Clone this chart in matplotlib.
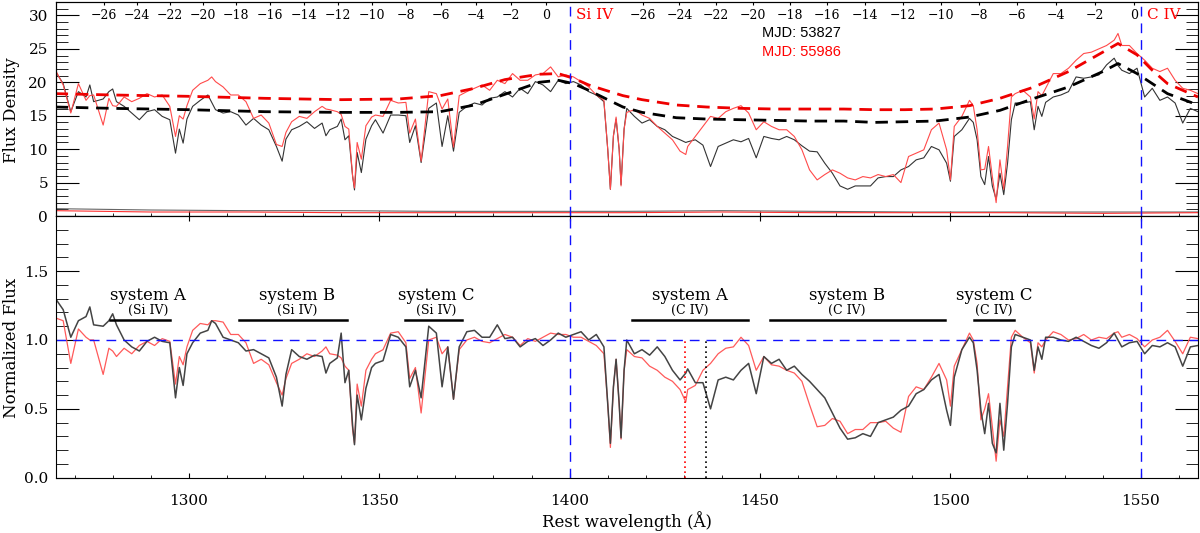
import numpy as np
import matplotlib.pyplot as plt
from matplotlib.ticker import MultipleLocator

plt.rcParams['font.family'] = ['DejaVu Serif']

# rest wavelength grid (A)
wave = [1265, 1267, 1269, 1271, 1273, 1274, 1275, 1277.5, 1279, 1280,
        1281, 1283, 1285, 1287, 1289, 1291, 1293, 1295, 1296.5, 1297.5,
        1298.5, 1299.5, 1301, 1303, 1305, 1306, 1307, 1309, 1311, 1313,
        1315, 1317, 1319, 1321, 1323, 1324.5, 1325.5, 1327, 1329, 1331,
        1333, 1335, 1336, 1337, 1339, 1340, 1341, 1342, 1343, 1343.5,
        1344.2, 1345.3, 1346.5, 1348, 1349, 1351, 1353, 1355, 1357, 1358,
        1359.5, 1361, 1363, 1365, 1366.5, 1368, 1369.5, 1371, 1373, 1375,
        1377, 1379, 1381, 1383, 1385, 1387, 1389, 1391, 1393, 1395,
        1397, 1399, 1401, 1403, 1405, 1407, 1409, 1410, 1410.7, 1411.5,
        1412.2, 1413, 1413.5, 1414.3, 1415, 1417, 1419, 1421, 1423, 1425,
        1427, 1429, 1430.5, 1431, 1433, 1435, 1437, 1439, 1441, 1443,
        1445, 1447, 1449, 1451, 1453, 1455, 1457, 1459, 1461, 1463,
        1465, 1467, 1469, 1471, 1473, 1475, 1477, 1479, 1481, 1483,
        1485, 1487, 1489, 1491, 1493, 1495, 1497, 1499, 1500, 1501,
        1503, 1505, 1506, 1507, 1508, 1509, 1510, 1511, 1512, 1513,
        1514, 1515, 1516, 1517, 1519, 1521, 1522, 1523, 1524, 1525,
        1527, 1529, 1531, 1533, 1535, 1537, 1539, 1541, 1543, 1544,
        1545, 1547, 1549, 1551, 1553, 1555, 1557, 1559, 1561, 1563,
        1565]

# flux density, MJD 53827 (black) and MJD 55986 (red)
flux_53827 = [21.6, 19.8, 15.6, 18.6, 17.8, 19.6, 17.1, 17.5, 18.6, 19.0,
              17.1, 16.4, 15.4, 14.4, 15.6, 15.9, 14.9, 14.4, 9.4, 13.0,
              10.9, 14.5, 16.4, 17.3, 18.1, 17.0, 15.9, 15.4, 15.6, 15.1,
              13.6, 14.6, 13.6, 12.9, 10.4, 8.2, 11.5, 12.9, 13.4, 14.1,
              13.1, 13.9, 12.0, 12.9, 13.4, 14.5, 11.4, 12.0, 6.0, 3.9,
              9.5, 6.5, 11.5, 13.5, 14.4, 12.4, 15.1, 15.1, 15.0, 11.0,
              13.5, 8.0, 16.1, 16.9, 10.4, 15.0, 9.7, 15.5, 16.4, 16.9,
              16.6, 17.6, 17.8, 18.6, 17.8, 19.1, 18.3, 20.1, 19.6, 18.6,
              20.3, 19.8, 20.1, 19.6, 18.6, 18.1, 17.1, 10.0, 4.0, 12.0,
              14.5, 10.0, 4.7, 13.0, 16.1, 14.9, 13.9, 14.4, 13.4, 12.9,
              11.9, 11.4, 11.0, 11.1, 11.4, 10.6, 7.4, 10.4, 10.9, 11.4,
              11.1, 11.6, 8.7, 11.9, 11.6, 11.4, 11.9, 11.4, 10.5, 9.7,
              9.6, 7.9, 6.4, 4.5, 4.0, 4.5, 4.5, 4.5, 5.7, 5.9,
              5.9, 6.9, 7.4, 8.4, 8.7, 10.4, 9.9, 7.9, 5.2, 11.9,
              12.9, 14.6, 14.0, 11.4, 5.9, 4.7, 8.9, 4.5, 2.5, 6.4,
              3.2, 7.9, 14.4, 16.9, 16.9, 17.1, 12.9, 16.4, 14.9, 17.0,
              17.8, 18.1, 18.6, 20.8, 20.6, 20.8, 21.1, 22.6, 23.6, 22.5,
              21.8, 21.3, 22.1, 17.8, 19.1, 17.3, 17.8, 16.9, 13.9, 16.1,
              15.6]
flux_55986 = [21.8, 19.6, 15.4, 19.8, 17.3, 18.0, 18.1, 13.6, 17.6, 16.5,
              16.4, 17.8, 17.1, 17.6, 18.3, 17.8, 18.1, 16.4, 11.9, 15.0,
              14.5, 16.5, 18.8, 19.8, 20.3, 20.8, 20.1, 19.3, 18.1, 18.1,
              17.1, 14.6, 15.1, 13.9, 10.7, 10.4, 12.5, 14.1, 14.9, 14.6,
              15.6, 16.4, 16.0, 15.9, 15.6, 15.2, 13.4, 13.0, 6.0, 4.2,
              11.0, 8.5, 13.5, 14.8, 15.1, 14.9, 17.3, 16.9, 17.0, 12.4,
              14.5, 8.2, 18.6, 18.3, 16.0, 17.5, 10.3, 18.0, 18.6, 19.1,
              19.6, 18.8, 20.3, 19.8, 21.3, 20.3, 20.3, 21.1, 21.3, 22.3,
              20.8, 21.1, 20.8, 20.1, 19.3, 18.1, 17.3, 10.0, 4.0, 12.0,
              14.8, 10.0, 4.5, 13.0, 15.5, 15.9, 15.1, 14.6, 13.4, 12.4,
              11.4, 9.7, 9.2, 10.4, 11.9, 13.4, 14.9, 14.6, 15.6, 16.1,
              16.5, 15.4, 12.9, 14.1, 13.4, 12.9, 12.9, 11.9, 9.9, 6.9,
              5.4, 6.2, 6.9, 6.4, 5.7, 5.4, 5.9, 5.7, 6.2, 5.9,
              6.2, 5.0, 8.9, 9.4, 9.9, 12.9, 13.9, 9.9, 5.4, 13.4,
              14.9, 17.3, 16.5, 12.9, 6.9, 7.0, 10.4, 5.9, 2.0, 8.4,
              4.0, 10.4, 17.8, 18.3, 18.8, 17.8, 14.5, 18.6, 18.0, 19.1,
              21.3, 21.3, 22.1, 23.3, 24.3, 24.5, 25.0, 25.5, 26.3, 27.3,
              25.5, 25.5, 24.3, 23.3, 22.1, 21.6, 22.1, 20.3, 19.1, 18.8,
              18.3]

# normalized flux
norm_53827 = [1.30, 1.22, 1.02, 1.14, 1.17, 1.24, 1.11, 1.10, 1.14, 1.19,
              1.11, 1.00, 0.95, 0.92, 0.99, 1.02, 0.99, 0.98, 0.58, 0.80,
              0.67, 0.90, 0.98, 1.05, 1.07, 1.14, 1.12, 1.02, 1.00, 0.98,
              0.92, 0.93, 0.90, 0.87, 0.73, 0.52, 0.75, 0.93, 0.88, 0.86,
              0.89, 0.88, 0.76, 0.83, 0.87, 1.05, 0.69, 0.78, 0.38, 0.24,
              0.60, 0.42, 0.65, 0.80, 0.83, 0.85, 1.04, 1.02, 0.95, 0.66,
              0.78, 0.58, 1.10, 1.05, 0.66, 0.95, 0.57, 0.95, 1.06, 1.07,
              1.02, 1.02, 1.11, 1.01, 1.02, 0.95, 0.99, 1.01, 0.96, 1.00,
              1.05, 1.02, 1.04, 1.06, 1.00, 1.04, 0.95, 0.54, 0.25, 0.66,
              0.86, 0.54, 0.29, 0.78, 1.00, 0.90, 0.93, 0.89, 0.95, 0.88,
              0.78, 0.71, 0.76, 0.79, 0.69, 0.69, 0.50, 0.71, 0.73, 0.71,
              0.78, 0.83, 0.61, 0.88, 0.83, 0.86, 0.78, 0.81, 0.75, 0.70,
              0.64, 0.58, 0.47, 0.36, 0.28, 0.29, 0.32, 0.30, 0.40, 0.42,
              0.44, 0.49, 0.52, 0.61, 0.64, 0.71, 0.75, 0.49, 0.38, 0.73,
              0.93, 1.02, 0.98, 0.78, 0.49, 0.32, 0.54, 0.25, 0.18, 0.54,
              0.20, 0.54, 0.95, 1.04, 1.02, 1.00, 0.78, 0.95, 0.86, 1.02,
              1.02, 1.00, 0.99, 1.02, 0.99, 0.96, 0.94, 0.98, 1.05, 1.00,
              0.95, 0.98, 0.99, 0.90, 0.96, 0.95, 0.98, 0.95, 0.81, 0.95,
              0.96]
norm_55986 = [1.16, 1.14, 0.83, 1.08, 1.02, 1.00, 1.00, 0.75, 0.94, 0.92,
              0.88, 0.94, 0.90, 0.96, 0.99, 0.96, 1.01, 0.99, 0.68, 0.88,
              0.82, 0.95, 1.07, 1.12, 1.11, 1.14, 1.14, 1.13, 1.04, 1.04,
              0.98, 0.83, 0.86, 0.82, 0.69, 0.60, 0.72, 0.83, 0.86, 0.90,
              0.88, 0.92, 0.95, 0.90, 0.89, 0.87, 0.81, 0.78, 0.35, 0.25,
              0.68, 0.52, 0.78, 0.86, 0.90, 0.93, 1.05, 1.06, 0.98, 0.72,
              0.80, 0.47, 1.00, 1.02, 0.90, 0.95, 0.57, 0.93, 1.00, 1.02,
              0.99, 0.98, 1.01, 1.04, 1.02, 0.96, 1.01, 0.99, 1.02, 1.05,
              1.04, 1.04, 1.02, 1.02, 0.99, 0.96, 0.90, 0.54, 0.22, 0.66,
              0.86, 0.54, 0.28, 0.78, 0.93, 0.88, 0.87, 0.81, 0.78, 0.73,
              0.70, 0.64, 0.55, 0.64, 0.67, 0.78, 0.83, 0.90, 0.94, 0.95,
              1.02, 0.96, 0.78, 0.88, 0.82, 0.81, 0.78, 0.76, 0.70, 0.53,
              0.37, 0.38, 0.43, 0.41, 0.32, 0.35, 0.35, 0.40, 0.40, 0.41,
              0.36, 0.33, 0.59, 0.66, 0.64, 0.73, 0.83, 0.71, 0.52, 0.81,
              0.93, 1.05, 1.00, 0.83, 0.42, 0.50, 0.61, 0.37, 0.12, 0.42,
              0.30, 0.66, 1.02, 1.07, 1.02, 0.98, 0.76, 0.98, 0.95, 1.00,
              1.06, 1.04, 1.00, 1.01, 1.04, 1.00, 1.02, 1.01, 1.05, 1.06,
              1.02, 1.04, 1.01, 0.95, 1.00, 1.02, 1.07, 0.99, 0.90, 1.02,
              1.01]

# continuum fits
cont_wave = [1265, 1280, 1300, 1320, 1340, 1355, 1366, 1375, 1383, 1392,
             1397, 1401, 1405, 1410, 1414, 1419, 1428, 1436, 1445, 1454,
             1463, 1472, 1480, 1488, 1496, 1505, 1513, 1522, 1531, 1540,
             1544, 1549, 1553, 1557, 1565]
cont_53827 = [16.3, 16.1, 15.9, 15.6, 15.5, 15.5, 15.6, 16.6, 18.2, 20.0,
              20.3, 19.8, 18.8, 17.4, 16.3, 15.5, 14.7, 14.5, 14.4, 14.3,
              14.2, 14.2, 14.0, 14.1, 14.2, 14.8, 15.8, 17.6, 19.3, 21.6,
              22.8, 21.3, 19.8, 18.3, 16.6]
cont_55986 = [18.3, 18.1, 17.9, 17.6, 17.4, 17.5, 18.0, 19.1, 20.4, 21.2,
              21.3, 20.6, 19.6, 18.7, 18.0, 17.4, 16.6, 16.3, 16.1, 16.0,
              16.0, 16.0, 15.9, 15.9, 16.0, 16.5, 17.6, 19.3, 21.6, 24.5,
              25.8, 24.1, 21.8, 19.8, 17.8]

# error spectra
err_wave = [1265, 1290, 1315, 1340, 1365, 1390, 1415, 1440, 1465, 1490, 1515, 1540, 1565]
err_53827 = [1.1, 0.9, 0.8, 0.8, 0.7, 0.7, 0.7, 0.8, 0.7, 0.6, 0.6, 0.6, 0.6]
err_55986 = [0.8, 0.6, 0.6, 0.5, 0.5, 0.5, 0.5, 0.6, 0.5, 0.5, 0.5, 0.4, 0.5]

# velocity scale (1000 km/s)
vel_labels = [-26, -24, -22, -20, -18, -16, -14, -12, -10, -8, -6, -4, -2, 0]
si4_rest = 1393.76
c4_rest = 1548.20

# absorption systems: name, ion, start, end
sys_names = ['system A', 'system B', 'system C', 'system A', 'system B', 'system C']
sys_ions = ['(Si IV)', '(Si IV)', '(Si IV)', '(C IV)', '(C IV)', '(C IV)']
sys_start = [1279.2, 1313.3, 1356.8, 1416.4, 1452.6, 1506.3]
sys_end = [1295.0, 1341.6, 1371.8, 1446.9, 1498.6, 1516.8]
sys_center = [1289.3, 1328.5, 1364.9, 1431.5, 1472.8, 1511.4]


def vel2wave(v, rest):
    b = np.asarray(v) * 1000.0 / 299792.458
    return rest * np.sqrt((1 + b) / (1 - b))


fig = plt.figure(figsize=(12, 5.33), dpi=100)
ax1 = fig.add_axes([0.0463, 0.5947, 0.952, 0.4015])
ax2 = fig.add_axes([0.0463, 0.1037, 0.952, 0.491])

# top panel
ax1.plot(wave, flux_53827, color='#333333', lw=0.8)
ax1.plot(wave, flux_55986, color='#ff4a4a', lw=0.8)
ax1.plot(err_wave, err_53827, color='#666666', lw=0.8)
ax1.plot(err_wave, err_55986, color='#ff3030', lw=0.8)
ax1.plot(cont_wave, cont_53827, color='black', lw=2, dashes=(4.5, 2.8))
ax1.plot(cont_wave, cont_55986, color='#ee0000', lw=2, dashes=(4.5, 2.8))
for w in (1400, 1550):
    ax1.axvline(w, color='#1010ff', lw=1, dashes=(7, 5))

ax1.set_xlim(1265, 1565)
ax1.set_ylim(0, 32)
ax1.yaxis.set_major_locator(MultipleLocator(5))
ax1.yaxis.set_minor_locator(MultipleLocator(1))

for rest in (si4_rest, c4_rest):
    for v, w in zip(vel_labels, vel2wave(vel_labels, rest)):
        ax1.text(w, 30, str(v).replace('-', '\u2212'), ha='center', va='center', fontsize=9)
ax1.text(1401.7, 30, 'Si IV', color='red', ha='left', va='center', fontsize=11)
ax1.text(1551.7, 30, 'C IV', color='red', ha='left', va='center', fontsize=11)
ax1.text(1450.4, 27.3, 'MJD: 53827', color='black', ha='left', va='center',
         fontsize=10.5, family='Liberation Sans')
ax1.text(1450.4, 24.5, 'MJD: 55986', color='red', ha='left', va='center',
         fontsize=10.5, family='Liberation Sans')

top = ax1.twiny()
top.set_xlim(1265, 1565)
top.set_xticks(np.concatenate([vel2wave(vel_labels, si4_rest), vel2wave(vel_labels, c4_rest)]))
top.tick_params(axis='x', direction='in', length=2.5, labeltop=False)

# bottom panel
ax2.plot(wave, norm_55986, color='#ff5a5a', lw=0.9)
ax2.plot(wave, norm_53827, color='#444444', lw=1.1)
ax2.axhline(1.0, color='#1010ff', lw=1, dashes=(7, 5))
for w in (1400, 1550):
    ax2.axvline(w, color='#1010ff', lw=1, dashes=(7, 5))
ax2.vlines(1430.4, 0, 0.99, color='red', lw=1.2, linestyles=(0, (1, 2)))
ax2.vlines(1435.9, 0, 0.99, color='black', lw=1.2, linestyles=(0, (1, 2)))

for name, ion, x0, x1, xc in zip(sys_names, sys_ions, sys_start, sys_end, sys_center):
    ax2.plot([x0, x1], [1.145, 1.145], color='black', lw=1.8)
    ax2.text(xc, 1.326, name, ha='center', va='center', fontsize=12)
    ax2.text(xc, 1.217, ion, ha='center', va='center', fontsize=9)

ax2.set_xlim(1265, 1565)
ax2.set_ylim(0, 1.9)
ax2.yaxis.set_major_locator(MultipleLocator(0.5))
ax2.yaxis.set_minor_locator(MultipleLocator(0.1))
ax2.yaxis.set_major_formatter(plt.FormatStrFormatter('%.1f'))

for ax in (ax1, ax2):
    ax.xaxis.set_major_locator(MultipleLocator(50))
    ax.xaxis.set_minor_locator(MultipleLocator(10))
    ax.tick_params(which='both', direction='in', right=True, labelsize=11)
    ax.tick_params(axis='y', which='major', length=16.5, pad=5.5)
    ax.tick_params(axis='y', which='minor', length=8.3)
    ax.tick_params(axis='x', which='major', length=3.7, pad=12)
    ax.tick_params(axis='x', which='minor', length=1.9)
ax1.tick_params(axis='x', labelbottom=False)
ax2.tick_params(axis='x', top=True)

fig.text(0.010, 0.794, 'Flux Density', rotation=90, ha='center', va='center', fontsize=12)
fig.text(0.010, 0.348, 'Normalized Flux', rotation=90, ha='center', va='center', fontsize=12)
fig.text(0.5225, 0.0225, 'Rest wavelength (\u00c5)', ha='center', va='center', fontsize=12)

fig.savefig('out.png', dpi=100)
